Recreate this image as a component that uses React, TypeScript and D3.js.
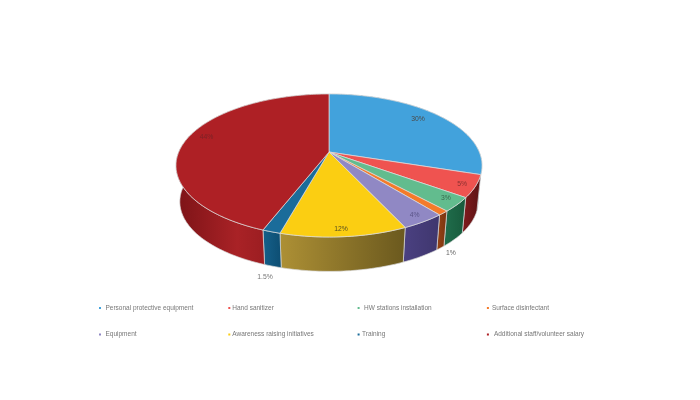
import React from "react";
import * as d3 from "d3";

const categories = ["Personal protective equipment","Hand sanitizer","HW stations installation","Surface disinfectant","Equipment","Awareness raising initiatives","Training","Additional staff/volunteer salary"];
const slices = [30, 5, 3.2, 1, 3.9, 11.2, 1.6, 44.1];
const sliceLabels = ["30%","5%","3%","1%","4%","12%","1.5%","44%"];
const topColors = ["#42A2DC","#EF5350","#62BC8E","#F47B2A","#9088C4","#FBCE12","#1B6C9A","#AE2025"];
const wallColors: [string,string][] = [["#2F7AA8","#2F7AA8"],["#7A1A1C","#5A1214"],["#1F6B4A","#175A3C"],["#8F3F14","#7A3410"],["#4A4080","#3F366E"],["#AD9035","#6B591E"],["#15608A","#0E4F74"],["#A92226","#7C1317"]];
const labelColors = ["#4a4a4a","#8a3030","#3a6a50","#666","#5a5488","#5a5020","#777","#7c2226"];
const labelR = [0.837,0.92,0.91,1.08,0.92,0.925,1.11,0.88];
const labelShift = [-0.05,0.01,-0.02,0,0,0.01,0,0.075];
const labelOnBase = [false,false,false,true,false,false,true,false];

const cx = 329, apexY = 152, R = 150.25, k = 0.1888, b = 68.95;
const bottomScale = 0.975, bottomApexY = 188.5;

const proj = (a: number, r: number, s = 1, y0 = apexY): [number, number] => {
  const u = r * Math.sin(a), v = -r * Math.cos(a), w = 1 - k * v;
  return [cx + (s * R * u) / w, y0 + (s * b * v) / w];
};

const line = d3.line();

export default function App() {
  const pie = d3.pie<number>().sort(null)(slices);
  const arcPts = (a0: number, a1: number, s = 1, y0 = apexY) => {
    const n = Math.max(2, Math.ceil((a1 - a0) / 0.02));
    return d3.range(n + 1).map(i => proj(a0 + ((a1 - a0) * i) / n, 1, s, y0));
  };
  return (
    <svg width={700} height={400} style={{ position: "absolute", left: 0, top: 0, background: "#fff", filter: "blur(0.4px)" }} fontFamily="Liberation Sans, Arial, sans-serif">
      <defs>
        {pie.map((p, i) => {
          const xs = [...arcPts(p.startAngle, p.endAngle)].map(d => d[0]);
          return (
            <linearGradient key={i} id={`w${i}`} gradientUnits="userSpaceOnUse" x1={d3.min(xs)} x2={d3.max(xs)} y1={0} y2={0}>
              <stop offset="0" stopColor={wallColors[i][i === 7 ? 1 : 0]} />
              {i === 7 ? <stop offset="0.4" stopColor={wallColors[i][0]} /> : null}
              <stop offset="1" stopColor={wallColors[i][1]} />
            </linearGradient>
          );
        })}
      </defs>
      {pie.map((p, i) => {
        const top = arcPts(p.startAngle, p.endAngle);
        const bot = arcPts(p.startAngle, p.endAngle, bottomScale, bottomApexY).reverse();
        return <path key={i} d={line([...top, ...bot])! + "Z"} fill={`url(#w${i})`} stroke="#d8d8d8" strokeWidth={0.7} strokeLinejoin="round" />;
      })}
      {pie.map((p, i) => {
        const pts: [number, number][] = [[cx, apexY], ...arcPts(p.startAngle, p.endAngle)];
        return <path key={i} d={line(pts)! + "Z"} fill={topColors[i]} stroke="#dcdcdc" strokeWidth={0.7} strokeLinejoin="round" />;
      })}
      {pie.map((p, i) => {
        const a = (p.startAngle + p.endAngle) / 2 + labelShift[i];
        const [x, y] = labelOnBase[i] ? proj(a, labelR[i], bottomScale, bottomApexY) : proj(a, labelR[i]);
        return <text key={i} x={x} y={y} textAnchor="middle" dominantBaseline="middle" fontSize={6.8} fill={labelColors[i]}>{sliceLabels[i]}</text>;
      })}
      {categories.map((c, i) => {
        const col = i % 4, row = Math.floor(i / 4);
        const mx = 100 + col * 129.3, my = 308 + row * 26.5;
        const gap = [5.5, 3, 5.5, 4, 5.5, 3, 3.5, 6][i];
        return (
          <g key={c}>
            <rect x={mx - 1} y={my - 1} width={2} height={2} fill={topColors[i]} />
            <text x={mx + gap} y={my} dominantBaseline="middle" fontSize={6.5} fill="#777">{c}</text>
          </g>
        );
      })}
    </svg>
  );
}
